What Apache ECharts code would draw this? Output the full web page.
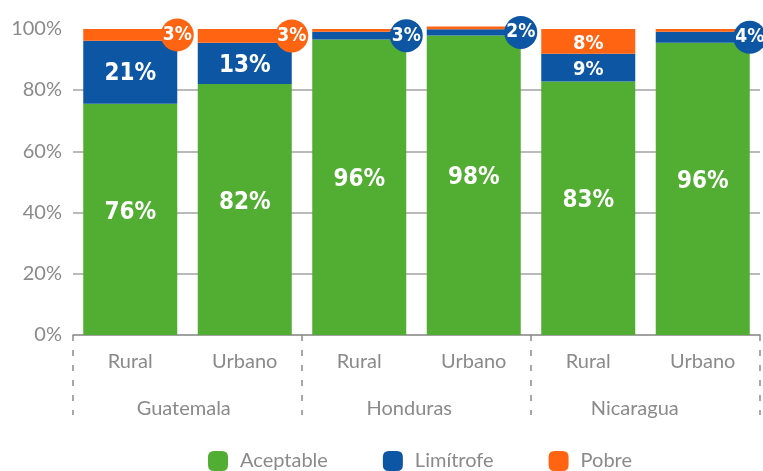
<!DOCTYPE html>
<html lang="es">
<head>
    <meta charset="utf-8"/>
    <title>Consumo de alimentos</title>
    <script src="https://cdn.jsdelivr.net/npm/echarts@6/dist/echarts.min.js"></script>
</head>
<body style="margin:0;">
<div id="chart" style="width:763px;height:471px;"></div>
<script type="text/javascript">
    // categorias (zona) y paises
    var zonas = ['Rural', 'Urbano', 'Rural', 'Urbano', 'Rural', 'Urbano'];
    var paises = ['Guatemala', 'Honduras', 'Nicaragua'];

    // valores (%)
    var aceptable = [75.5, 82.0, 96.5, 97.8, 82.8, 95.4];
    var limitrofe = [20.6, 13.4, 2.5, 2.0, 9.0, 3.6];
    var pobre = [3.8, 4.5, 0.9, 0.9, 8.1, 0.9];

    // etiquetas que muestra el grafico
    var aceptableTxt = ['76%', '82%', '96%', '98%', '83%', '96%'];
    var limitrofeTxt = ['21%', '13%', '3%', '2%', '9%', '4%'];
    var pobreTxt = ['3%', '3%', '', '', '8%', ''];

    var verde = '#52ad33', azul = '#0d56a4', naranja = '#ff6413';
    var gris = '#8a8a8a';
    var fuente = 'Lato';
    var fuenteNum = '"DejaVu Sans Condensed", "Liberation Sans Narrow", "DejaVu Sans"';

    function armarDatos(valores, textos, color, dy) {
        return valores.map(function (v, i) {
            var t = textos[i];
            if (!t) {
                return {value: v, label: {show: false}};
            }
            if (v < 5) {
                // circulito en la esquina de la barra
                return {
                    value: v,
                    label: {
                        show: true,
                        position: ['100%', '50%'],
                        align: 'center',
                        verticalAlign: 'middle',
                        formatter: t,
                        color: '#fff',
                        fontFamily: fuenteNum,
                        fontWeight: 'bold',
                        fontSize: 19,
                        backgroundColor: color,
                        borderRadius: 17,
                        width: 33,
                        height: 33,
                        lineHeight: 33,
                        padding: 0
                    }
                };
            }
            return {
                value: v,
                label: {
                    show: true,
                    position: 'inside',
                    formatter: t,
                    color: '#fff',
                    fontFamily: fuenteNum,
                    fontWeight: 'bold',
                    fontSize: v < 10 ? 20 : 24,
                    offset: [0, v > 50 ? dy : 2]
                }
            };
        });
    }

    var chart = echarts.init(document.getElementById('chart'));

    var gridColors = [];
    for (var k = 0; k < 5; k++) gridColors.push('#a3a3a3');
    gridColors.push('rgba(0,0,0,0)'); // sin linea en 100%

    chart.setOption({
        animation: false,
        grid: [
            {left: 73, right: 3, top: 28.75, bottom: 136},
            // solo para centrar los nombres de paises
            {left: 71, right: 15.5, top: 28.75, bottom: 136}
        ],
        legend: {
            data: ['Aceptable', 'Limítrofe', 'Pobre'],
            left: 203,
            top: 446,
            itemWidth: 20,
            itemHeight: 20,
            itemGap: 55,
            icon: 'path://M6,0 H14 Q20,0 20,6 V14 Q20,20 14,20 H6 Q0,20 0,14 V6 Q0,0 6,0 Z',
            textStyle: {color: gris, fontSize: 20, fontFamily: fuente, padding: [0, 0, 0, 7]}
        },
        xAxis: [
            {
                type: 'category',
                data: zonas,
                axisTick: {show: false},
                axisLine: {lineStyle: {color: '#999', width: 1.5}},
                axisLabel: {color: gris, fontSize: 20, fontFamily: fuente, margin: 17, interval: 0}
            },
            {
                // separadores punteados entre paises
                type: 'category',
                data: paises,
                position: 'bottom',
                axisLine: {show: false},
                axisTick: {show: true, length: 80, lineStyle: {color: '#8a8a8a', width: 1.5, type: [6, 9]}},
                axisLabel: {show: false}
            },
            {
                gridIndex: 1,
                type: 'category',
                data: paises,
                position: 'bottom',
                axisLine: {show: false},
                axisTick: {show: false},
                axisLabel: {color: gris, fontSize: 20, fontFamily: fuente, margin: 64}
            }
        ],
        yAxis: [
            {
                type: 'value',
                min: 0,
                max: 100,
                interval: 20,
                axisLine: {show: false},
                axisTick: {show: false},
                axisLabel: {formatter: '{value}%', color: gris, fontSize: 20, fontFamily: fuente, margin: 11},
                splitLine: {lineStyle: {color: gridColors, width: 1.5}}
            },
            {gridIndex: 1, type: 'value', min: 0, max: 100, show: false}
        ],
        series: [
            {
                name: 'Aceptable', type: 'bar', stack: 'total', barWidth: 94, clip: false,
                itemStyle: {color: verde},
                data: armarDatos(aceptable, aceptableTxt, verde, -7)
            },
            {
                name: 'Limítrofe', type: 'bar', stack: 'total', barWidth: 94, clip: false,
                itemStyle: {color: azul},
                data: armarDatos(limitrofe, limitrofeTxt, azul, 2)
            },
            {
                name: 'Pobre', type: 'bar', stack: 'total', barWidth: 94, clip: false,
                itemStyle: {color: naranja},
                data: armarDatos(pobre, pobreTxt, naranja, 1)
            }
        ]
    });
</script>
</body>
</html>
